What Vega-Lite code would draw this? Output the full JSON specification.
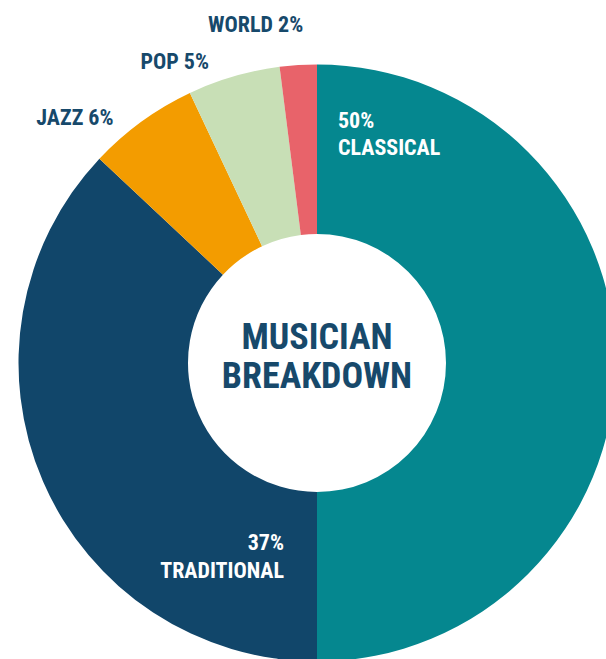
{
  "$schema": "https://vega.github.io/schema/vega-lite/v6.json",
  "autosize": "none",
  "width": 578,
  "height": 592,
  "padding": {"left": 28, "top": 67, "right": 0, "bottom": 0},
  "background": "white",
  "config": {"view": {"stroke": null}},
  "data": {
    "values": [
      {"genre": "CLASSICAL", "value": 50, "label": "50%\nCLASSICAL"},
      {"genre": "TRADITIONAL", "value": 37, "label": "37%\nTRADITIONAL"},
      {"genre": "JAZZ", "value": 6, "label": "JAZZ 6%"},
      {"genre": "POP", "value": 5, "label": "POP 5%"},
      {"genre": "WORLD", "value": 2, "label": "WORLD 2%"}
    ]
  },
  "layer": [
    {
      "mark": {"type": "arc", "outerRadius": 298.5, "innerRadius": 129, "stroke": null},
      "encoding": {
        "theta": {"field": "value", "type": "quantitative", "stack": true},
        "order": {"field": "value", "type": "quantitative", "sort": "descending"},
        "color": {
          "field": "genre", "type": "nominal", "legend": null,
          "scale": {
            "domain": ["CLASSICAL", "TRADITIONAL", "JAZZ", "POP", "WORLD"],
            "range": ["#05878f", "#11466a", "#f39c00", "#c8dfb6", "#e8636a"]
          }
        }
      }
    },
    {
      "mark": {"type": "text", "radius": 340, "dx": -40, "dy": 1, "align": "center", "baseline": "middle", "font": "Roboto Condensed, Roboto, sans-serif", "fontWeight": "bold", "fontSize": 22, "color": "#17496b", "lineBreak": "\n"},
      "encoding": {
        "theta": {"field": "value", "type": "quantitative", "stack": true},
        "order": {"field": "value", "type": "quantitative", "sort": "descending"},
        "detail": {"field": "genre"},
        "text": {"condition": {"test": "datum.genre === 'WORLD'", "field": "label"}, "value": ""}
      }
    },
    {
      "mark": {"type": "text", "radius": 313, "dx": -55, "align": "center", "baseline": "middle", "font": "Roboto Condensed, Roboto, sans-serif", "fontWeight": "bold", "fontSize": 22, "color": "#17496b", "lineBreak": "\n"},
      "encoding": {
        "theta": {"field": "value", "type": "quantitative", "stack": true},
        "order": {"field": "value", "type": "quantitative", "sort": "descending"},
        "detail": {"field": "genre"},
        "text": {"condition": {"test": "datum.genre === 'POP'", "field": "label"}, "value": ""}
      }
    },
    {
      "mark": {"type": "text", "radius": 303, "dx": -64, "align": "center", "baseline": "middle", "font": "Roboto Condensed, Roboto, sans-serif", "fontWeight": "bold", "fontSize": 22, "color": "#17496b", "lineBreak": "\n"},
      "encoding": {
        "theta": {"field": "value", "type": "quantitative", "stack": true},
        "order": {"field": "value", "type": "quantitative", "sort": "descending"},
        "detail": {"field": "genre"},
        "text": {"condition": {"test": "datum.genre === 'JAZZ'", "field": "label"}, "value": ""}
      }
    },
    {
      "mark": {"type": "text", "radius": 0, "dx": 21, "dy": -242, "align": "left", "baseline": "middle", "font": "Roboto Condensed, Roboto, sans-serif", "fontWeight": "bold", "fontSize": 22, "lineHeight": 27, "color": "white", "lineBreak": "\n"},
      "encoding": {
        "theta": {"field": "value", "type": "quantitative", "stack": true},
        "order": {"field": "value", "type": "quantitative", "sort": "descending"},
        "detail": {"field": "genre"},
        "text": {"condition": {"test": "datum.genre === 'CLASSICAL'", "field": "label"}, "value": ""}
      }
    },
    {
      "mark": {"type": "text", "radius": 0, "dx": -33, "dy": 180, "align": "right", "baseline": "middle", "font": "Roboto Condensed, Roboto, sans-serif", "fontWeight": "bold", "fontSize": 22, "lineHeight": 28, "color": "white", "lineBreak": "\n"},
      "encoding": {
        "theta": {"field": "value", "type": "quantitative", "stack": true},
        "order": {"field": "value", "type": "quantitative", "sort": "descending"},
        "detail": {"field": "genre"},
        "text": {"condition": {"test": "datum.genre === 'TRADITIONAL'", "field": "label"}, "value": ""}
      }
    },
    {
      "data": {"values": [{"title": "MUSICIAN\nBREAKDOWN"}]},
      "mark": {"type": "text", "dy": -25, "align": "center", "baseline": "middle", "font": "Roboto Condensed, Roboto, sans-serif", "fontWeight": "bold", "fontSize": 36, "lineHeight": 39, "color": "#17496b", "lineBreak": "\n"},
      "encoding": {
        "text": {"field": "title", "type": "nominal"}
      }
    }
  ]
}
